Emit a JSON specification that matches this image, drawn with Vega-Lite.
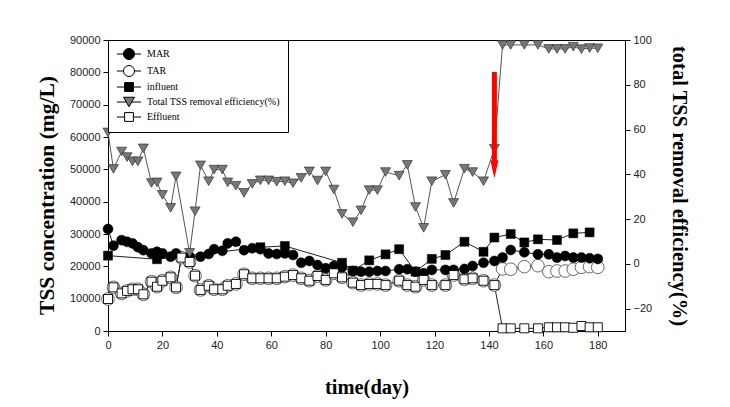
{
  "$schema": "https://vega.github.io/schema/vega-lite/v6.json",
  "width": 517,
  "height": 291,
  "autosize": {"type": "none"},
  "padding": {"left": 108, "top": 40, "right": 105, "bottom": 76},
  "background": "white",
  "config": {
    "view": {"stroke": "black", "strokeWidth": 1},
    "axis": {
      "grid": false,
      "domainColor": "black",
      "tickColor": "black",
      "tickSize": 5,
      "labelFont": "Liberation Sans",
      "labelFontSize": 11,
      "labelColor": "#222",
      "labelPadding": 3,
      "labelFlush": false,
      "titleFont": "Liberation Serif",
      "titleFontWeight": "bold",
      "titleFontSize": 20.5,
      "titleColor": "black"
    },
    "legend": {
      "symbolStrokeColor": "black",
      "symbolStrokeWidth": 1
    }
  },
  "datasets": {
    "conc": [
      {"day":0,"series":"TAR","value":9900},{"day":2,"series":"TAR","value":13500},{"day":5,"series":"TAR","value":11650},{"day":7,"series":"TAR","value":12400},{"day":9,"series":"TAR","value":12900},{"day":11,"series":"TAR","value":12900},{"day":13,"series":"TAR","value":11350},{"day":16,"series":"TAR","value":15250},{"day":18,"series":"TAR","value":13700},{"day":20,"series":"TAR","value":15550},{"day":23,"series":"TAR","value":16600},{"day":25,"series":"TAR","value":13500},{"day":27,"series":"TAR","value":22700},{"day":30,"series":"TAR","value":21350},{"day":32,"series":"TAR","value":17100},{"day":34,"series":"TAR","value":12700},{"day":37,"series":"TAR","value":14000},{"day":39,"series":"TAR","value":12900},{"day":42,"series":"TAR","value":12900},{"day":44,"series":"TAR","value":14000},{"day":47,"series":"TAR","value":14550},{"day":50,"series":"TAR","value":17550},{"day":53,"series":"TAR","value":16300},{"day":56,"series":"TAR","value":16300},{"day":59,"series":"TAR","value":16300},{"day":62,"series":"TAR","value":16300},{"day":65,"series":"TAR","value":16800},{"day":68,"series":"TAR","value":17300},{"day":71,"series":"TAR","value":16300},{"day":74,"series":"TAR","value":15550},{"day":77,"series":"TAR","value":17000},{"day":80,"series":"TAR","value":15800},{"day":83,"series":"TAR","value":17850},{"day":86,"series":"TAR","value":16600},{"day":90,"series":"TAR","value":14950},{"day":93,"series":"TAR","value":14200},{"day":96,"series":"TAR","value":14550},{"day":99,"series":"TAR","value":14550},{"day":102,"series":"TAR","value":14200},{"day":107,"series":"TAR","value":15550},{"day":110,"series":"TAR","value":14200},{"day":113,"series":"TAR","value":13700},{"day":116,"series":"TAR","value":15800},{"day":119,"series":"TAR","value":14200},{"day":124,"series":"TAR","value":14200},{"day":127,"series":"TAR","value":17300},{"day":131,"series":"TAR","value":16000},{"day":134,"series":"TAR","value":16300},{"day":138,"series":"TAR","value":15550},{"day":142,"series":"TAR","value":14200},{"day":145,"series":"TAR","value":19200},{"day":148,"series":"TAR","value":19100},{"day":153,"series":"TAR","value":19900},{"day":158,"series":"TAR","value":20200},{"day":162,"series":"TAR","value":18350},{"day":165,"series":"TAR","value":18550},{"day":168,"series":"TAR","value":18550},{"day":171,"series":"TAR","value":19100},{"day":174,"series":"TAR","value":19700},{"day":177,"series":"TAR","value":19900},{"day":180,"series":"TAR","value":19700},

      {"day":0,"series":"MAR","value":31550},{"day":2,"series":"MAR","value":26400},{"day":5,"series":"MAR","value":28100},{"day":7,"series":"MAR","value":27600},{"day":9,"series":"MAR","value":27100},{"day":11,"series":"MAR","value":25900},{"day":13,"series":"MAR","value":25000},{"day":16,"series":"MAR","value":24000},{"day":18,"series":"MAR","value":24500},{"day":20,"series":"MAR","value":24000},{"day":23,"series":"MAR","value":23000},{"day":25,"series":"MAR","value":24000},{"day":30,"series":"MAR","value":23000},{"day":34,"series":"MAR","value":23000},{"day":37,"series":"MAR","value":23800},{"day":39,"series":"MAR","value":25300},{"day":42,"series":"MAR","value":24800},{"day":44,"series":"MAR","value":27100},{"day":47,"series":"MAR","value":27600},{"day":50,"series":"MAR","value":25000},{"day":53,"series":"MAR","value":25600},{"day":56,"series":"MAR","value":25300},{"day":59,"series":"MAR","value":24000},{"day":62,"series":"MAR","value":23800},{"day":65,"series":"MAR","value":24000},{"day":68,"series":"MAR","value":23500},{"day":71,"series":"MAR","value":21100},{"day":74,"series":"MAR","value":21650},{"day":77,"series":"MAR","value":20400},{"day":80,"series":"MAR","value":19400},{"day":83,"series":"MAR","value":20100},{"day":86,"series":"MAR","value":19700},{"day":90,"series":"MAR","value":18550},{"day":93,"series":"MAR","value":18350},{"day":96,"series":"MAR","value":18350},{"day":99,"series":"MAR","value":18550},{"day":102,"series":"MAR","value":18550},{"day":107,"series":"MAR","value":19100},{"day":110,"series":"MAR","value":19100},{"day":113,"series":"MAR","value":18350},{"day":116,"series":"MAR","value":17850},{"day":119,"series":"MAR","value":18900},{"day":124,"series":"MAR","value":18900},{"day":127,"series":"MAR","value":18900},{"day":131,"series":"MAR","value":19200},{"day":134,"series":"MAR","value":20100},{"day":138,"series":"MAR","value":21100},{"day":142,"series":"MAR","value":21650},{"day":145,"series":"MAR","value":22700},{"day":148,"series":"MAR","value":25050},{"day":153,"series":"MAR","value":24350},{"day":158,"series":"MAR","value":23700},{"day":162,"series":"MAR","value":23700},{"day":165,"series":"MAR","value":22700},{"day":168,"series":"MAR","value":23200},{"day":171,"series":"MAR","value":22700},{"day":174,"series":"MAR","value":22700},{"day":177,"series":"MAR","value":22500},{"day":180,"series":"MAR","value":22300},

      {"day":0,"series":"influent","value":23300},{"day":18,"series":"influent","value":22200},{"day":56,"series":"influent","value":25900},{"day":65,"series":"influent","value":26300},{"day":86,"series":"influent","value":21100},{"day":90,"series":"influent","value":18650},{"day":96,"series":"influent","value":21850},{"day":102,"series":"influent","value":23700},{"day":107,"series":"influent","value":25300},{"day":113,"series":"influent","value":18350},{"day":119,"series":"influent","value":22300},{"day":124,"series":"influent","value":23500},{"day":131,"series":"influent","value":27600},{"day":138,"series":"influent","value":24500},{"day":142,"series":"influent","value":28900},{"day":148,"series":"influent","value":30000},{"day":153,"series":"influent","value":27400},{"day":158,"series":"influent","value":28350},{"day":165,"series":"influent","value":28150},{"day":171,"series":"influent","value":30200},{"day":177,"series":"influent","value":30500},

      {"day":0,"series":"Effluent","value":9900},{"day":2,"series":"Effluent","value":13500},{"day":5,"series":"Effluent","value":11650},{"day":7,"series":"Effluent","value":12400},{"day":9,"series":"Effluent","value":12900},{"day":11,"series":"Effluent","value":12900},{"day":13,"series":"Effluent","value":11350},{"day":16,"series":"Effluent","value":15250},{"day":18,"series":"Effluent","value":13700},{"day":20,"series":"Effluent","value":15550},{"day":23,"series":"Effluent","value":16600},{"day":25,"series":"Effluent","value":13500},{"day":27,"series":"Effluent","value":22700},{"day":30,"series":"Effluent","value":21350},{"day":32,"series":"Effluent","value":17100},{"day":34,"series":"Effluent","value":12700},{"day":37,"series":"Effluent","value":14000},{"day":39,"series":"Effluent","value":12900},{"day":42,"series":"Effluent","value":12900},{"day":44,"series":"Effluent","value":14000},{"day":47,"series":"Effluent","value":14550},{"day":50,"series":"Effluent","value":17550},{"day":53,"series":"Effluent","value":16300},{"day":56,"series":"Effluent","value":16300},{"day":59,"series":"Effluent","value":16300},{"day":62,"series":"Effluent","value":16300},{"day":65,"series":"Effluent","value":16800},{"day":68,"series":"Effluent","value":17300},{"day":71,"series":"Effluent","value":16300},{"day":74,"series":"Effluent","value":15550},{"day":77,"series":"Effluent","value":17000},{"day":80,"series":"Effluent","value":15800},{"day":83,"series":"Effluent","value":17850},{"day":86,"series":"Effluent","value":16600},{"day":90,"series":"Effluent","value":14950},{"day":93,"series":"Effluent","value":14200},{"day":96,"series":"Effluent","value":14550},{"day":99,"series":"Effluent","value":14550},{"day":102,"series":"Effluent","value":14200},{"day":107,"series":"Effluent","value":15550},{"day":110,"series":"Effluent","value":14200},{"day":113,"series":"Effluent","value":13700},{"day":116,"series":"Effluent","value":15800},{"day":119,"series":"Effluent","value":14200},{"day":124,"series":"Effluent","value":14200},{"day":127,"series":"Effluent","value":17300},{"day":131,"series":"Effluent","value":16000},{"day":134,"series":"Effluent","value":16300},{"day":138,"series":"Effluent","value":15550},{"day":142,"series":"Effluent","value":14200},{"day":145,"series":"Effluent","value":830},{"day":148,"series":"Effluent","value":830},{"day":153,"series":"Effluent","value":830},{"day":158,"series":"Effluent","value":830},{"day":162,"series":"Effluent","value":1150},{"day":165,"series":"Effluent","value":1150},{"day":168,"series":"Effluent","value":1150},{"day":171,"series":"Effluent","value":1000},{"day":174,"series":"Effluent","value":1550},{"day":177,"series":"Effluent","value":1150},{"day":180,"series":"Effluent","value":1150}
    ],
    "eff": [
      {"day":0,"eff":58.7},{"day":2,"eff":42.4},{"day":5,"eff":50.2},{"day":7,"eff":47.7},{"day":9,"eff":45.8},{"day":11,"eff":45.8},{"day":13,"eff":51.6},{"day":16,"eff":36.1},{"day":18,"eff":36.4},{"day":20,"eff":30.8},{"day":23,"eff":25.0},{"day":25,"eff":39.1},{"day":30,"eff":4.9},{"day":32,"eff":23.5},{"day":34,"eff":44.0},{"day":37,"eff":36.9},{"day":39,"eff":42.1},{"day":42,"eff":42.1},{"day":44,"eff":36.4},{"day":47,"eff":34.9},{"day":50,"eff":31.7},{"day":53,"eff":35.7},{"day":56,"eff":37.3},{"day":59,"eff":37.3},{"day":62,"eff":36.7},{"day":65,"eff":36.9},{"day":68,"eff":36.0},{"day":71,"eff":38.4},{"day":74,"eff":41.3},{"day":77,"eff":37.2},{"day":80,"eff":41.3},{"day":83,"eff":33.2},{"day":86,"eff":22.3},{"day":90,"eff":18.6},{"day":93,"eff":23.9},{"day":96,"eff":32.9},{"day":99,"eff":32.9},{"day":102,"eff":41.0},{"day":107,"eff":39.4},{"day":110,"eff":44.2},{"day":113,"eff":25.4},{"day":116,"eff":16.1},{"day":119,"eff":36.9},{"day":124,"eff":39.8},{"day":127,"eff":27.2},{"day":131,"eff":42.5},{"day":134,"eff":41.0},{"day":138,"eff":36.9},{"day":142,"eff":51.4},{"day":145,"eff":97.8},{"day":148,"eff":97.8},{"day":153,"eff":97.8},{"day":158,"eff":97.8},{"day":162,"eff":96.0},{"day":165,"eff":96.0},{"day":168,"eff":96.0},{"day":171,"eff":97.0},{"day":174,"eff":95.9},{"day":177,"eff":96.4},{"day":180,"eff":96.3}
    ],
    "arrow": [{"day":142,"top":85.7,"bottom":46,"head":42.3}],
    "legend": [{"s":"MAR"},{"s":"TAR"},{"s":"influent"},{"s":"Total TSS removal efficiency(%)"},{"s":"Effluent"}]
  },
  "encoding": {
    "x": {"field":"day","type":"quantitative","title":"time(day)","scale":{"domain":[0,190],"nice":false},"axis":{"values":[0,20,40,60,80,100,120,140,160,180],"titlePadding":27}}
  },
  "layer": [
    {
      "data": {"name":"conc"},
      "encoding": {
        "y": {"field":"value","type":"quantitative","title":"TSS concentration (mg/L)","scale":{"domain":[0,90000],"nice":false},"axis":{"orient":"left","values":[0,10000,20000,30000,40000,50000,60000,70000,80000,90000],"format":"d","titlePadding":11,"titleFontSize":21.5,"titleY":155}}
      },
      "layer": [
        {"mark":{"type":"line","stroke":"#222","strokeWidth":1},"encoding":{"detail":{"field":"series"}}},
        {"transform":[{"filter":"datum.series==='TAR'"}],"mark":{"type":"point","shape":"circle","size":160,"filled":true,"fill":"white","stroke":"#444","strokeWidth":0.8,"opacity":1}},
        {"transform":[{"filter":"datum.series==='MAR'"}],"mark":{"type":"point","shape":"circle","size":100,"filled":true,"fill":"black","stroke":"black","strokeWidth":0.5,"opacity":1}},
        {"transform":[{"filter":"datum.series==='influent'"}],"mark":{"type":"point","shape":"square","size":81,"filled":true,"fill":"black","stroke":"black","strokeWidth":0.5,"opacity":1}},
        {"transform":[{"filter":"datum.series==='Effluent'"}],"mark":{"type":"point","shape":"square","size":81,"filled":true,"fill":"white","stroke":"black","strokeWidth":0.9,"opacity":1}}
      ]
    },
    {
      "layer": [
        {"data":{"name":"eff"},"mark":{"type":"line","stroke":"#555","strokeWidth":1},
         "encoding":{"y":{"field":"eff","type":"quantitative","title":"total TSS removal efficiency(%)","scale":{"domain":[-30,100],"nice":false},"axis":{"orient":"right","values":[-20,0,20,40,60,80,100],"titlePadding":17}}}},
        {"data":{"name":"eff"},"mark":{"type":"point","shape":"triangle-down","size":100,"filled":true,"fill":"#777","stroke":"#333","strokeWidth":0.7,"opacity":1},
         "encoding":{"y":{"field":"eff","type":"quantitative","title":"total TSS removal efficiency(%)"}}},
        {"data":{"name":"arrow"},"mark":{"type":"rule","color":"#ff0000","strokeWidth":5},
         "encoding":{"y":{"field":"top","type":"quantitative","title":"total TSS removal efficiency(%)"},"y2":{"field":"bottom"}}},
        {"data":{"name":"arrow"},"mark":{"type":"point","shape":"M-0.45,-1L0.45,-1L0,1Z","size":324,"filled":true,"fill":"#ff0000","stroke":null,"opacity":1},
         "encoding":{"y":{"field":"head","type":"quantitative","title":"total TSS removal efficiency(%)"}}},
        {"data":{"name":"legend"},"transform":[{"filter":"false"}],
         "mark":{"type":"point","opacity":1,"strokeWidth":1},
         "encoding":{
           "x":null,
           "shape":{"field":"s","type":"nominal","scale":{"domain":["MAR","TAR","influent","Total TSS removal efficiency(%)","Effluent"],"range":["M-2.2,0H-1M1,0H2.2M-1,0A1,1 0 1,0 1,0A1,1 0 1,0 -1,0Z","M-2.2,0H-1M1,0H2.2M-1,0A1,1 0 1,0 1,0A1,1 0 1,0 -1,0Z","M-2.2,0H-0.8M0.8,0H2.2M-0.8,-0.8H0.8V0.8H-0.8Z","M-2.2,0H-0.5M0.5,0H2.2M-1,-0.866L1,-0.866L0,0.866Z","M-2.2,0H-0.8M0.8,0H2.2M-0.8,-0.8H0.8V0.8H-0.8Z"]},
             "legend":{"title":null,"orient":"none","legendX":0,"legendY":0,"direction":"vertical","strokeColor":"black","fillColor":"white","padding":8,"symbolSize":121,"symbolOffset":7,"labelOffset":12,"labelFont":"Liberation Serif","labelFontSize":10,"labelColor":"black","rowPadding":1,"labelLimit":300,"cornerRadius":0}},
           "fill":{"field":"s","type":"nominal","scale":{"domain":["MAR","TAR","influent","Total TSS removal efficiency(%)","Effluent"],"range":["black","white","black","#777777","white"]},
             "legend":{"title":null,"orient":"none","legendX":0,"legendY":0,"direction":"vertical","strokeColor":"black","fillColor":"white","padding":8,"symbolSize":121,"symbolOffset":7,"labelOffset":12,"labelFont":"Liberation Serif","labelFontSize":10,"labelColor":"black","rowPadding":1,"labelLimit":300,"cornerRadius":0}},
           "stroke":{"field":"s","type":"nominal","scale":{"domain":["MAR","TAR","influent","Total TSS removal efficiency(%)","Effluent"],"range":["black","black","black","black","black"]},
             "legend":{"title":null,"orient":"none","legendX":0,"legendY":0,"direction":"vertical","strokeColor":"black","fillColor":"white","padding":8,"symbolSize":121,"symbolOffset":7,"labelOffset":12,"labelFont":"Liberation Serif","labelFontSize":10,"labelColor":"black","rowPadding":1,"labelLimit":300,"cornerRadius":0}}
         }}
      ]
    }
  ],
  "resolve": {"scale": {"y": "independent"}}
}
